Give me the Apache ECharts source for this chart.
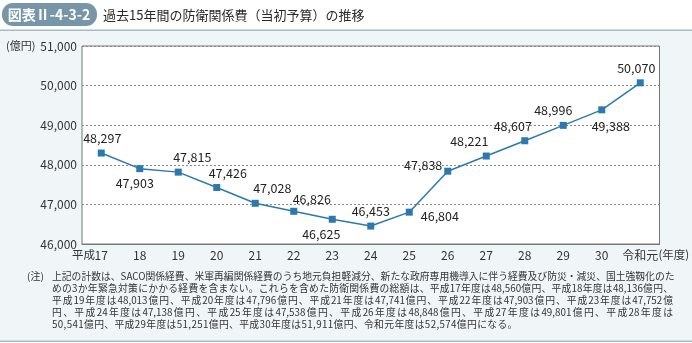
<!DOCTYPE html>
<html><head><meta charset="utf-8">
<script src="https://cdn.jsdelivr.net/npm/echarts@6/dist/echarts.min.js"></script>
<style>
html,body{margin:0;padding:0;background:#fff;}
#c{position:absolute;left:0;top:0;width:692px;height:343px;}
#note{position:absolute;left:0;top:270px;width:692px;font-family:"Noto Sans CJK JP",sans-serif;font-size:9.8px;color:#333;line-height:12px;}
#note .h{position:absolute;left:27px;top:0;font-size:10px;}
#note .l{position:absolute;left:52px;width:621px;text-align:justify;text-align-last:justify;white-space:nowrap;}
#note .l.last{text-align-last:left;letter-spacing:0.35px;}
</style></head>
<body>
<div id="c"></div>
<div id="note"></div>
<script>
const categories = ['17','18','19','20','21','22','23','24','25','26','27','28','29','30','元'];
const tickLabels = ['平成17','18','19','20','21','22','23','24','25','26','27','28','29','30','令和元'];
const values = [48297,47903,47815,47426,47028,46826,46625,46453,46804,47838,48221,48607,48996,49388,50070];
const yTicks = [46000,47000,48000,49000,50000,51000];
const noteLines = [
 '上記の計数は、SACO関係経費、米軍再編関係経費のうち地元負担軽減分、新たな政府専用機導入に伴う経費及び防災・減災、国土強靱化のた',
 'めの3か年緊急対策にかかる経費を含まない。これらを含めた防衛関係費の総額は、平成17年度は48,560億円、平成18年度は48,136億円、',
 '平成19年度は48,013億円、平成20年度は47,796億円、平成21年度は47,741億円、平成22年度は47,903億円、平成23年度は47,752億',
 '円、平成24年度は47,138億円、平成25年度は47,538億円、平成26年度は48,848億円、平成27年度は49,801億円、平成28年度は',
 '50,541億円、平成29年度は51,251億円、平成30年度は51,911億円、令和元年度は52,574億円になる。'
];
// label placement per point: [position, dx, dy]
const labelLayout = [
 ['top',1,0],['bottom',-5,0],['top',14,0],['top',11,0],['top',17,0],['top',18,3],['bottom',-11,0],
 ['top',0,0],['right',3,4],['left',3,-6],['top',-17,0],['top',-12,0],['top',-10,0],['bottom',9,2],['top',-4,0]
];

const note = document.getElementById('note');
note.innerHTML = '<div class="h">(注)</div>' + noteLines.map((t,i)=>
  '<div class="l'+(i===noteLines.length-1?' last':'')+'" style="top:'+(i*12)+'px">'+t+'</div>').join('');

const FONT = '"Noto Sans CJK JP", sans-serif';
const fmt = v => String(v).replace(/\B(?=(\d{3})+(?!\d))/g, ',');
const lineColor = '#2c79ad';

const chart = echarts.init(document.getElementById('c'), null, {renderer:'canvas'});
chart.setOption({
  animation:false,
  textStyle:{fontFamily:FONT},
  graphic:[
    {type:'rect', z:-10, silent:true, shape:{x:0,y:0,width:692,height:343}, style:{fill:'#fff'}},
    {type:'rect', z:-9, silent:true, shape:{x:0,y:31,width:692,height:310}, style:{fill:'#f0f6f7'}},
    {type:'rect', z:-8, silent:true, shape:{x:0,y:29.5,width:692,height:1.5}, style:{fill:'#a2bcc6'}},
    {type:'rect', z:-8, silent:true, shape:{x:0,y:340.5,width:692,height:1.5}, style:{fill:'#a2bcc6'}},
    {type:'rect', z:-7, silent:true, shape:{x:2,y:3,width:95,height:23,r:11}, style:{fill:'#7797a8'}},
    {type:'text', silent:true, style:{x:49,y:15,text:'図表Ⅱ-4-3-2',fill:'#fff',font:'bold 14px '+FONT,textAlign:'center',textVerticalAlign:'middle'}},
    {type:'text', silent:true, style:{x:103,y:15,text:'過去15年間の防衛関係費（当初予算）の推移',fill:'#2a2a2a',font:'13px '+FONT,textAlign:'left',textVerticalAlign:'middle'}},
    {type:'text', silent:true, style:{x:6,y:46,text:'(億円)',fill:'#333',font:'11px '+FONT,textAlign:'left',textVerticalAlign:'middle'}}
  ],
  grid:{left:82,right:28,top:46,bottom:99,show:true,backgroundColor:'#fff',borderColor:'#777',borderWidth:1},
  xAxis:{
    type:'category', data:categories, boundaryGap:true,
    axisLine:{lineStyle:{color:'#777',width:1}},
    axisTick:{inside:true,length:4,lineStyle:{color:'#777'}},
    axisLabel:{
      color:'#333', fontSize:12, margin:5, interval:0,
      formatter:(v,i)=>{
        if(i===0) return '{p|平成}{n|17}{s|}';
        if(i===categories.length-1) return '{s2|}{n|令和元}{y|(年度)}';
        return '{n|'+tickLabels[i]+'}';
      },
      rich:{
        p:{fontSize:11.5,color:'#333',width:22},
        n:{fontSize:12,color:'#333'},
        s:{width:22},
        s2:{width:31},
        y:{fontSize:11.5,color:'#333',width:31}
      }
    }
  },
  yAxis:{
    type:'value', min:yTicks[0], max:yTicks[yTicks.length-1], interval:1000,
    axisLine:{show:false}, axisTick:{show:false},
    axisLabel:{color:'#333',fontSize:12,margin:5,formatter:v=>fmt(v)},
    splitLine:{show:true,lineStyle:{color:'#888',type:[2,2],width:1}}
  },
  series:[{
    type:'line', data:values.map((v,i)=>({
      value:v,
      label:{position:labelLayout[i][0],offset:[labelLayout[i][1],labelLayout[i][2]]}
    })),
    symbol:'rect', symbolSize:7,
    lineStyle:{color:lineColor,width:1.5},
    itemStyle:{color:lineColor},
    label:{show:true,distance:5,color:'#222',fontSize:12.5,fontFamily:FONT,formatter:p=>fmt(p.value)}
  }]
});
</script>
</body></html>
